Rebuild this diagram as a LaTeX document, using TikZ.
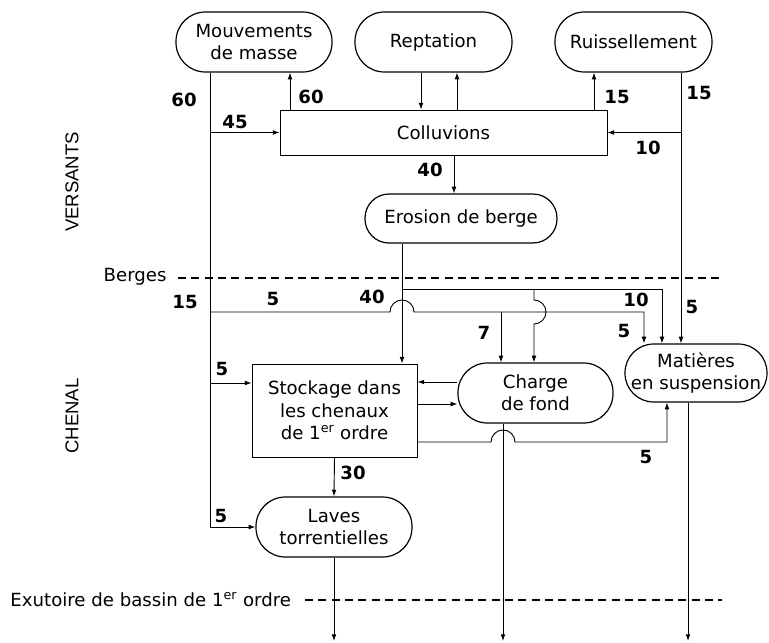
\documentclass[tikz,border=0pt]{standalone}
\usepackage{fontspec}
\setmainfont{DejaVu Sans}
\newfontfamily\arialfont{Liberation Sans}
\usetikzlibrary{arrows.meta}

\begin{document}
\begin{tikzpicture}[
  x=0.75pt, y=-0.75pt,
  line width=0.7pt,
  font=\fontsize{13.6}{16.8}\selectfont,
  pill/.style={draw, line width=0.9pt, rectangle, rounded corners=22pt,
    minimum height=45pt, inner sep=0pt, align=center},
  box/.style={draw, line width=0.7pt, rectangle, inner sep=0pt, align=center},
  num/.style={font=\fontsize{13.6}{16.8}\selectfont\bfseries, inner sep=0pt},
  flow/.style={-{Latex[length=5pt,width=3.6pt]}},
  limit/.style={line width=1pt, dash pattern=on 6pt off 4pt},
  zone/.style={rotate=90, font=\arialfont\fontsize{13.9}{16}\selectfont}
]
\useasboundingbox (0,0) rectangle (769,643);

% boxes
\node[pill, minimum width=117pt] (mouv) at (254,42) {Mouvements\\de masse};
\node[pill, minimum width=117.75pt] (rept) at (433.5,42) {Reptation};
\node[pill, minimum width=117.75pt] (ruis) at (633.5,42) {Ruissellement};
\node[box, minimum width=245.25pt, minimum height=33.75pt] (coll) at (443.5,132.5) {Colluvions};
\node[pill, minimum width=144pt, minimum height=36.75pt, rounded corners=18pt] (eros) at (461,218.5) {Erosion de berge};
\node[box, minimum width=123.75pt, minimum height=69.75pt] (stock) at (334.5,410.5)
  {Stockage dans\\les chenaux\\de 1\textsuperscript{er} ordre};
\node[pill, minimum width=116.25pt] (charge) at (535.5,393) {Charge\\de fond};
\node[pill, minimum width=106.5pt, minimum height=43.5pt, rounded corners=21.5pt] (mat) at (696,373)
  {Matières\\en suspension};
\node[pill, minimum width=117pt] (laves) at (334,527) {Laves\\torrentielles};

\coordinate (trunk) at (210,0);
\coordinate (eb) at (402,289);
\coordinate (tb) at (210,312);
\coordinate (exit) at (0,641);

% zones
\node[zone] (versants) at (72,182) {VERSANTS};
\node[zone] (chenal) at (72,416) {CHENAL};
\node[anchor=east, inner sep=0pt] (berges) at (167,277) {Berges};
\draw[limit] (178,278) -- (722,278);
\node[anchor=west, inner sep=0pt] (exutoire) at (10,600) {Exutoire de bassin de 1\textsuperscript{er} ordre};
\draw[limit] (305,600) -- (722,600);

% versants
\draw[flow] (mouv.south -| trunk) |- (laves.west);
\draw[flow] (coll.west -| trunk) -- (coll.west);
\draw[flow] (coll.north -| 290,0) -- (mouv.south -| 290,0);
\draw[flow] (rept.south -| 421,0) -- (coll.north -| 421,0);
\draw[flow] (coll.north -| 457,0) -- (rept.south -| 457,0);
\draw[flow] (coll.north -| 594,0) -- (ruis.south -| 594,0);
\draw[flow] (ruis.south -| 681,0) -- (mat.north -| 681,0);
\draw[flow] (coll.east -| 681,0) -- (coll.east);
\draw[flow] (coll.south -| 454,0) -- (eros.north -| 454,0);

% berges
\draw[flow] (eros.south -| eb) -- (stock.north -| eb);
\draw[flow] (eb) -| (mat.north -| 662,0);
\draw[flow] (eb -| 534,0) -- (534,300) arc[start angle=90, end angle=-90, radius=9pt]
  -- (charge.north -| 534,0);
\draw[flow] (tb) -- (390,312) arc[start angle=180, end angle=0, radius=9pt]
  -| (mat.north -| 644,0);
\draw[flow] (tb -| 501,0) -- (charge.north -| 501,0);

% chenal
\draw[flow] (trunk |- 0,383) -- (stock.west |- 0,383);
\draw[flow] (charge.west |- 0,382) -- (stock.east |- 0,382);
\draw[flow] (stock.east |- 0,404) -- (charge.west |- 0,404);
\draw[flow] (stock.east |- 0,442) -- (491,442) arc[start angle=180, end angle=0, radius=9pt]
  -| (mat.south -| 667,0);
\draw[flow] (stock.south) -- (laves.north);
\draw[flow] (laves.south) -- (laves.south |- exit);
\draw[flow] (charge.south -| 503,0) -- (exit -| 503,0);
\draw[flow] (mat.south -| 688,0) -- (exit -| 688,0);

% flows
\node[num] (q1) at (184,100) {60};
\node[num] (q2) at (311,97) {60};
\node[num] (q3) at (235,122) {45};
\node[num] (q4) at (617,97) {15};
\node[num] (q5) at (699,93) {15};
\node[num] (q6) at (648,148) {10};
\node[num] (q7) at (430,170) {40};
\node[num] (q8) at (185,302) {15};
\node[num] (q9) at (273,299) {5};
\node[num] (q10) at (372,297) {40};
\node[num] (q11) at (636,300) {10};
\node[num] (q12) at (692,307) {5};
\node[num] (q13) at (484,333) {7};
\node[num] (q14) at (624,331) {5};
\node[num] (q15) at (222,369) {5};
\node[num] (q16) at (353,473) {30};
\node[num] (q17) at (221,516) {5};
\node[num] (q18) at (646,457) {5};
\end{tikzpicture}
\end{document}
